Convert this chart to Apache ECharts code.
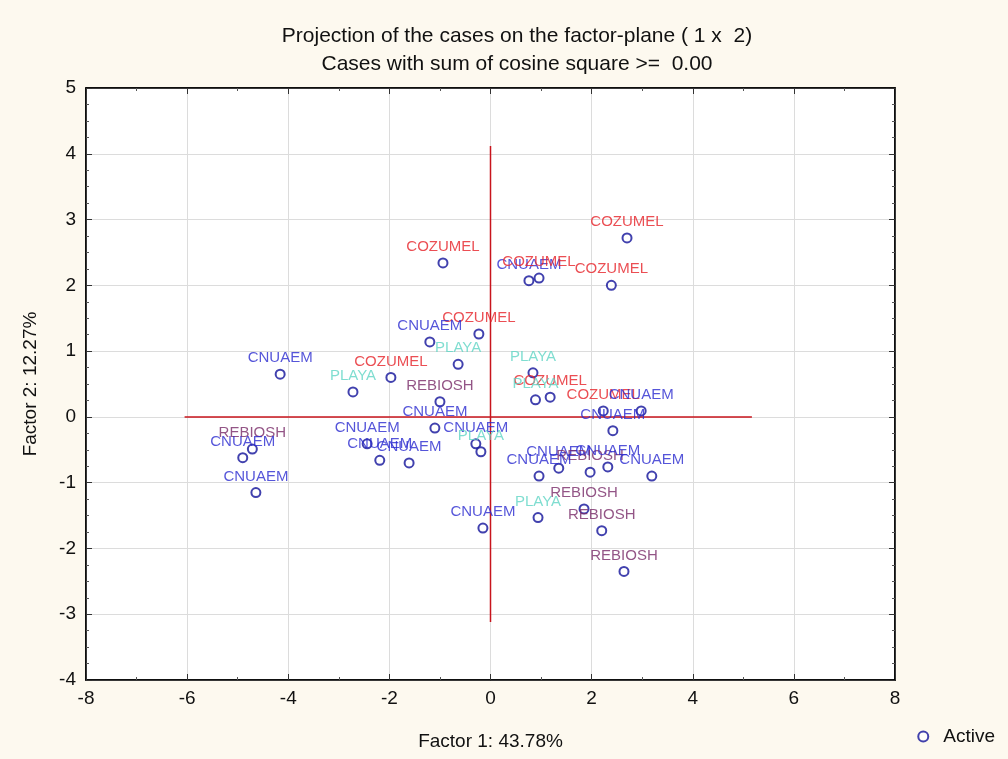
<!DOCTYPE html>
<html>
<head>
<meta charset="utf-8">
<script src="https://cdn.jsdelivr.net/npm/echarts@6/dist/echarts.min.js"></script>
<style>
  html, body { margin: 0; padding: 0; background: #fdf9ef; }
  #chart { width: 1008px; height: 759px; }
</style>
</head>
<body>
<div id="chart"></div>
<script>
// Case coordinates on the first two factors
const caseNames = [
  'COZUMEL', 'COZUMEL', 'CNUAEM', 'COZUMEL', 'COZUMEL', 'COZUMEL', 'CNUAEM', 'PLAYA',
  'CNUAEM', 'COZUMEL', 'PLAYA', 'REBIOSH', 'CNUAEM', 'CNUAEM', 'PLAYA', 'REBIOSH',
  'CNUAEM', 'CNUAEM', 'CNUAEM', 'CNUAEM', 'CNUAEM', 'PLAYA', 'COZUMEL', 'PLAYA',
  'COZUMEL', 'CNUAEM', 'CNUAEM', 'CNUAEM', 'REBIOSH', 'CNUAEM', 'CNUAEM', 'CNUAEM',
  'REBIOSH', 'PLAYA', 'REBIOSH', 'REBIOSH', 'CNUAEM'
];
const factor1 = [
  2.70, -0.94, 0.76, 0.96, 2.39, -0.23, -1.20, -0.64,
  -4.16, -1.97, -2.72, -1.00, -1.10, -0.29, -0.19, -4.71,
  -4.90, -4.64, -2.44, -2.19, -1.61, 0.84, 1.18, 0.89,
  2.23, 2.98, 2.42, 1.35, 1.97, 2.32, 0.96, 3.19,
  1.85, 0.94, 2.20, 2.64, -0.15
];
const factor2 = [
  2.72, 2.34, 2.07, 2.11, 2.00, 1.26, 1.14, 0.80,
  0.65, 0.60, 0.38, 0.23, -0.17, -0.41, -0.53, -0.49,
  -0.62, -1.15, -0.41, -0.66, -0.70, 0.67, 0.30, 0.26,
  0.09, 0.09, -0.21, -0.78, -0.84, -0.76, -0.90, -0.90,
  -1.40, -1.53, -1.73, -2.35, -1.69
];
// Reference axes through the origin
const originLineX = [-6.05, 5.17];
const originLineY = [-3.12, 4.12];

const titleText = 'Projection of the cases on the factor-plane ( 1 x  2)';
const subtitleText = 'Cases with sum of cosine square >=  0.00';
const xAxisName = 'Factor 1: 43.78%';
const yAxisName = 'Factor 2: 12.27%';

const groupColors = {
  CNUAEM: '#2a2ad0',
  COZUMEL: '#e62228',
  PLAYA: '#5fd4c4',
  REBIOSH: '#782a68'
};

const FONT = '"Liberation Sans", Arial, sans-serif';

const points = caseNames.map((name, i) => ({
  name: name,
  value: [factor1[i], factor2[i]],
  label: { color: groupColors[name] }
}));

function frameAxis(extra) {
  return Object.assign({
    axisLine: { show: true, onZero: false, lineStyle: { color: '#000', width: 1.5 } },
    axisTick: { show: true, inside: true, length: 6, lineStyle: { color: '#333', width: 1 } },
    splitLine: { show: false },
    axisLabel: { show: false }
  }, extra);
}

const chart = echarts.init(document.getElementById('chart'), null, { renderer: 'canvas' });
chart.setOption({
  backgroundColor: '#fdf9ef',
  animation: false,
  title: [
    { text: titleText, left: 512, top: 21, textAlign: 'center',
      textStyle: { fontFamily: FONT, fontSize: 21, fontWeight: 'normal', color: '#111' } },
    { text: subtitleText, left: 512, top: 49, textAlign: 'center',
      textStyle: { fontFamily: FONT, fontSize: 21, fontWeight: 'normal', color: '#111' } }
  ],
  grid: {
    left: 86, right: 113, top: 88, bottom: 79,
    show: true, backgroundColor: '#ffffff', borderColor: '#000', borderWidth: 1.5
  },
  legend: {
    right: 8, bottom: 8,
    data: [{ name: 'Active', icon: 'emptyCircle' }],
    itemWidth: 10, itemHeight: 10, itemGap: 8,
    textStyle: { fontFamily: FONT, fontSize: 19, color: '#111', padding: [0, 0, 0, 10] }
  },
  xAxis: [
    frameAxis({
      type: 'value', min: -8, max: 8, interval: 2, position: 'bottom',
      name: xAxisName, nameLocation: 'middle', nameGap: 52,
      nameTextStyle: { fontFamily: FONT, fontSize: 19, color: '#111' },
      axisLabel: { show: true, margin: 9, fontFamily: FONT, fontSize: 19, color: '#111' },
      splitLine: { show: true, lineStyle: { color: '#dcdcdc', width: 1 } },
      minorTick: { show: true, splitNumber: 2, length: 3, lineStyle: { color: '#555' } }
    }),
    frameAxis({
      type: 'value', min: -8, max: 8, interval: 2, position: 'top',
      minorTick: { show: true, splitNumber: 2, length: 3, lineStyle: { color: '#555' } }
    })
  ],
  yAxis: [
    frameAxis({
      type: 'value', min: -4, max: 5, interval: 1, position: 'left',
      name: yAxisName, nameLocation: 'middle', nameGap: 46, nameRotate: 90,
      nameTextStyle: { fontFamily: FONT, fontSize: 19, color: '#111' },
      axisLabel: { show: true, margin: 10, fontFamily: FONT, fontSize: 19, color: '#111' },
      splitLine: { show: true, lineStyle: { color: '#dcdcdc', width: 1 } },
      minorTick: { show: true, splitNumber: 4, length: 3, lineStyle: { color: '#555' } }
    }),
    frameAxis({
      type: 'value', min: -4, max: 5, interval: 1, position: 'right',
      minorTick: { show: true, splitNumber: 4, length: 3, lineStyle: { color: '#555' } }
    })
  ],
  series: [
    {
      type: 'line', name: 'axis-h', silent: true, symbol: 'none',
      data: originLineX.map(x => [x, 0]),
      lineStyle: { color: '#c8141c', width: 1.5 }, z: 1
    },
    {
      type: 'line', name: 'axis-v', silent: true, symbol: 'none',
      data: originLineY.map(y => [0, y]),
      lineStyle: { color: '#c8141c', width: 1.5 }, z: 1
    },
    {
      type: 'scatter', name: 'Active',
      symbol: 'emptyCircle', symbolSize: 9,
      itemStyle: { color: '#12129a', borderWidth: 2.2 },
      data: points,
      label: {
        show: true, position: 'top', distance: 3,
        formatter: p => p.name,
        fontFamily: FONT, fontSize: 15
      },
      labelLayout: { hideOverlap: false },
      z: 3
    }
  ]
});
</script>
</body>
</html>
